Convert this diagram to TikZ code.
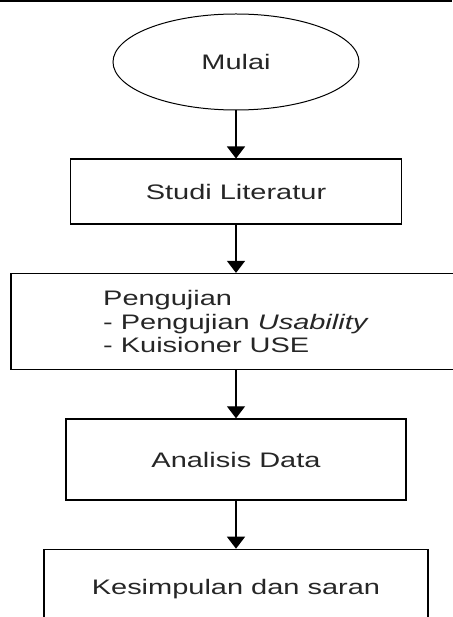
\documentclass[tikz,border=0pt]{standalone}
\usepackage{fontspec}
\setmainfont{Liberation Sans}[FakeStretch=1.38]
\usetikzlibrary{shapes.geometric, arrows.meta, positioning}

\begin{document}
\begin{tikzpicture}[
    x=1pt, y=-1pt,
    node distance=48pt,
    box/.style={draw, rectangle, line width=1.4pt, inner sep=0pt, align=center, font=\fontsize{21}{23.5}\selectfont, text=black!85},
    oval/.style={draw, ellipse, line width=1pt, inner sep=0pt, minimum width=246pt, minimum height=96pt, font=\fontsize{21}{23.5}\selectfont, text=black!85},
    arrow/.style={-{Triangle[length=12pt, width=18pt]}, line width=1.3pt}
]
\useasboundingbox (0,0) rectangle (452,617);

% top rule
\draw [line width=1.6pt] (0,0.8) -- (452,0.8);

% Nodes
\node [oval] (mulai) at (236,62) {Mulai};
\node [box, below=of mulai, minimum width=331pt, minimum height=65pt] (studi) {Studi Literatur};
\node [box, below=of studi, minimum width=450pt, minimum height=96pt, align=left] (uji) {Pengujian\\- Pengujian \textit{Usability}\\- Kuisioner USE};
\node [box, below=of uji, minimum width=340pt, minimum height=81pt] (analisis) {Analisis Data};
\node [box, below=of analisis, minimum width=384pt, minimum height=80pt] (simpul) {Kesimpulan dan saran};

% Arrows
\draw [arrow] (mulai) -- (studi);
\draw [arrow] (studi) -- (uji);
\draw [arrow] (uji) -- (analisis);
\draw [arrow] (analisis) -- (simpul);

\end{tikzpicture}
\end{document}
